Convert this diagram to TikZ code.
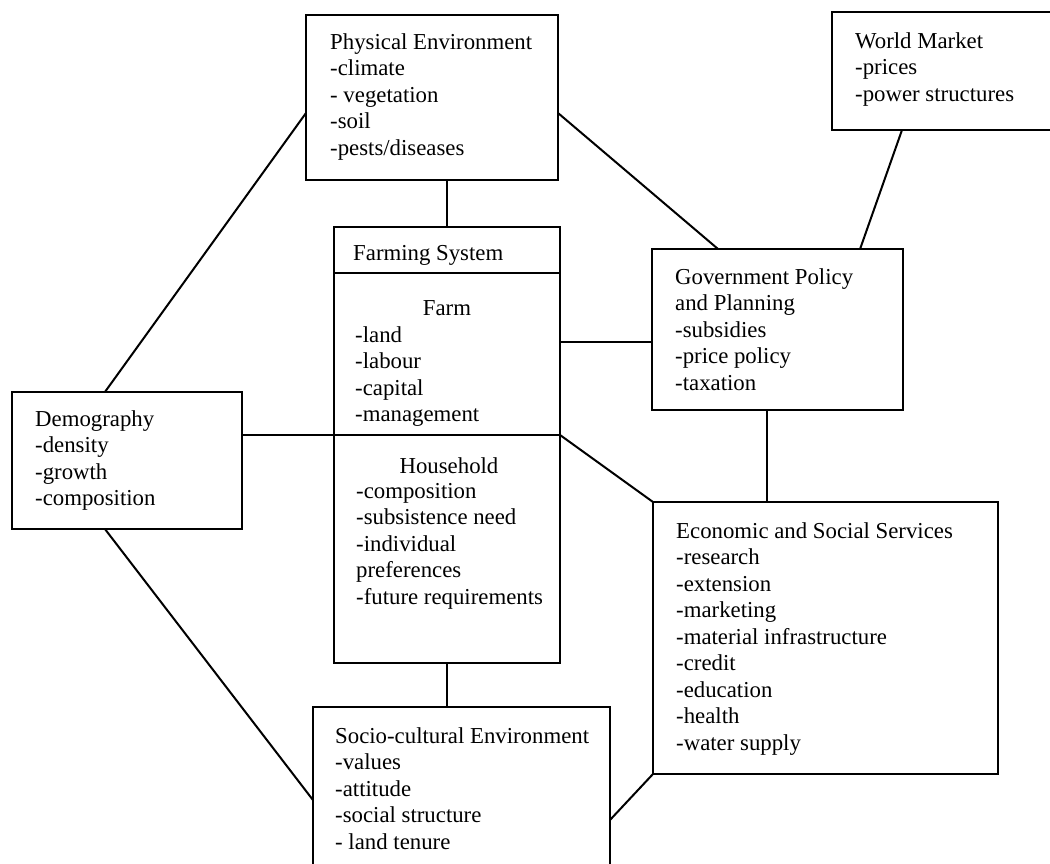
\documentclass[tikz,border=0pt]{standalone}
\usepackage{fontspec}
\setmainfont{Liberation Serif}
\usetikzlibrary{calc}
\begin{document}
\begin{tikzpicture}[x=1pt,y=-1pt,
  box/.style={draw, line width=1.8pt, inner sep=0pt, outer sep=0pt},
  link/.style={line width=2pt},
  txt/.style={anchor=north west, inner sep=0pt, align=left, font=\fontsize{22.8}{26.5}\selectfont},
  ctr/.style={anchor=north, inner sep=0pt, font=\fontsize{22.8}{26.5}\selectfont}]
\useasboundingbox (0,0) rectangle (1050,864);
\clip (0,0) rectangle (1050,864);
\fill[white] (0,0) rectangle (1050,864);

% boxes
\node[box, minimum width=252pt, minimum height=165pt] (pe) at (432,97.5) {};
\node[box, minimum width=224pt, minimum height=118pt] (wm) at (944,71) {};
\node[box, minimum width=226pt, minimum height=436pt] (fs) at (447,445) {};
\node[box, minimum width=251pt, minimum height=161pt] (gov) at (777.5,329.5) {};
\node[box, minimum width=230pt, minimum height=137pt] (demo) at (127,460.5) {};
\node[box, minimum width=345pt, minimum height=272pt] (econ) at (825.5,638) {};
\node[box, minimum width=297pt, minimum height=173pt] (socio) at (461.5,793.5) {};

% farming system compartments
\coordinate (fsHW) at ($(fs.north west)!0.1055!(fs.south west)$);
\coordinate (fsHE) at ($(fs.north east)!0.1055!(fs.south east)$);
\coordinate (fsDW) at ($(fs.north west)!0.477!(fs.south west)$);
\coordinate (fsDE) at ($(fs.north east)!0.477!(fs.south east)$);
\draw[line width=1.8pt] (fsHW) -- (fsHE);
\draw[line width=1.8pt] (fsDW) -- (fsDE);

% connection points
\coordinate (peL) at ($(pe.north west)!0.594!(pe.south west)$);
\coordinate (peR) at ($(pe.north east)!0.594!(pe.south east)$);
\coordinate (demoT) at ($(demo.north west)!0.404!(demo.north east)$);
\coordinate (demoB) at ($(demo.south west)!0.404!(demo.south east)$);
\coordinate (govTL) at ($(gov.north west)!0.263!(gov.north east)$);
\coordinate (govTR) at ($(gov.north west)!0.829!(gov.north east)$);
\coordinate (govL) at ($(gov.north west)!0.578!(gov.south west)$);
\coordinate (govB) at ($(gov.south west)!0.458!(gov.south east)$);
\coordinate (wmB) at ($(wm.south west)!0.3125!(wm.south east)$);
\coordinate (socL) at ($(socio.north west)!0.538!(socio.south west)$);
\coordinate (socR) at ($(socio.north east)!0.653!(socio.south east)$);

% connectors
\draw[link] (fs.north |- pe.south) -- (fs.north);
\draw[link] (peL) -- (demoT);
\draw[link] (peR) -- (govTL);
\draw[link] (wmB) -- (govTR);
\draw[link] (govL) -- (govL -| fs.east);
\draw[link] (fsDW -| demo.east) -- (fsDW);
\draw[link] (fsDE) -- (econ.north west);
\draw[link] (govB) -- (govB |- econ.north);
\draw[link] (fs.south) -- (fs.south |- socio.north);
\draw[link] (demoB) -- (socL);
\draw[link] (econ.south west) -- (socR);

% texts
\node[txt] (pet) at (330,33) {Physical Environment\\-climate\\- vegetation\\-soil\\-pests/diseases};
\node[txt] (wmt) at (855,32) {World Market\\-prices\\-power structures};
\node[txt] (fst) at (353,245) {Farming System};
\node[ctr] (farmt) at (447,300) {Farm};
\node[txt] (farml) at (355,326) {-land\\-labour\\-capital\\-management};
\node[ctr] (hht) at (449,457) {Household};
\node[txt] (hhl) at (356,483) {-composition\\-subsistence need\\-individual\\preferences\\-future requirements};
\node[txt] (govt) at (675,268) {Government Policy\\and Planning\\-subsidies\\-price policy\\-taxation};
\node[txt] (demot) at (35,410) {Demography\\-density\\-growth\\-composition};
\node[txt] (econt) at (676,522) {Economic and Social Services\\-research\\-extension\\-marketing\\-material infrastructure\\-credit\\-education\\-health\\-water supply};
\node[txt] (sociot) at (335,727) {Socio-cultural Environment\\-values\\-attitude\\-social structure\\- land tenure};
\end{tikzpicture}
\end{document}
